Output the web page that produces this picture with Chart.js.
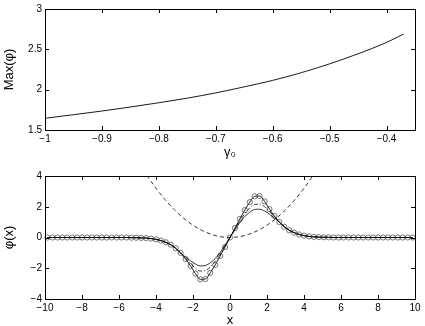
<!DOCTYPE html>
<html>
<head>
<meta charset="utf-8">
<script src="https://cdn.jsdelivr.net/npm/chart.js@4"></script>
<style>
  html, body { margin: 0; padding: 0; background: #fff; width: 425px; height: 326px; overflow: hidden; }
  .panel { position: absolute; left: 0; width: 425px; height: 163px; }
  #top { top: 0; }
  #bot { top: 163px; }
</style>
</head>
<body>
<div class="panel" id="top"><canvas id="c1"></canvas></div>
<div class="panel" id="bot"><canvas id="c2"></canvas></div>
<script>
// upper panel: Max(phi) against gamma_0
const gamma = [-1, -0.95, -0.9, -0.85, -0.8, -0.75, -0.7, -0.65, -0.6, -0.55, -0.5, -0.45, -0.4, -0.37]
const maxPhi = [1.645, 1.69, 1.735, 1.785, 1.838, 1.895, 1.96, 2.035, 2.115, 2.21, 2.32, 2.445, 2.585, 2.69]
const gammaTicks = [-1, -0.9, -0.8, -0.7, -0.6, -0.5, -0.4]
const maxPhiTicks = [1.5, 2, 2.5, 3]

// lower panel: phi(x) profiles
const xs = [-9.87, -9.6, -9.33, -9.07, -8.8, -8.53, -8.27, -8, -7.73, -7.47, -7.2, -6.93, -6.67, -6.4, -6.13, -5.87, -5.6, -5.33, -5.07, -4.8,
  -4.53, -4.27, -4, -3.73, -3.47, -3.2, -2.93, -2.67, -2.4, -2.13, -1.87, -1.6, -1.33, -1.07, -0.8, -0.53, -0.27, 0,
  0.27, 0.53, 0.8, 1.07, 1.33, 1.6, 1.87, 2.13, 2.4, 2.67, 2.93, 3.2, 3.47, 3.73, 4, 4.27, 4.53, 4.8, 5.07, 5.33, 5.6, 5.87,
  6.13, 6.4, 6.67, 6.93, 7.2, 7.47, 7.73, 8, 8.27, 8.53, 8.8, 9.07, 9.33, 9.6, 9.87]
const phiCircles = [0, 0, 0, 0, 0, 0, 0, 0, 0, 0, 0, 0, 0, 0, 0, 0, 0,
  -0.01, -0.015, -0.025, -0.04, -0.07, -0.12, -0.2, -0.31, -0.47, -0.7, -1.0, -1.4, -1.85, -2.35, -2.72, -2.7, -2.3, -1.78, -1.2, -0.62,
  0,
  0.62, 1.2, 1.78, 2.3, 2.68, 2.7, 2.35, 1.85, 1.4, 1.0, 0.7, 0.47, 0.31, 0.2, 0.12, 0.07, 0.04, 0.025, 0.015, 0.01,
  0, 0, 0, 0, 0, 0, 0, 0, 0, 0, 0, 0, 0, 0, 0, 0, 0]
const phiDashDot = [0, 0, 0, 0, 0, 0, 0, 0, 0, 0, 0, 0, 0, 0, 0, 0, 0,
  -0.01, -0.015, -0.025, -0.04, -0.07, -0.12, -0.2, -0.31, -0.47, -0.7, -1.0, -1.35, -1.7, -2.0, -2.18, -2.15, -1.92, -1.55, -1.08, -0.56,
  0,
  0.56, 1.08, 1.55, 1.92, 2.15, 2.17, 2.0, 1.7, 1.35, 1.0, 0.7, 0.47, 0.31, 0.2, 0.12, 0.07, 0.04, 0.025, 0.015, 0.01,
  0, 0, 0, 0, 0, 0, 0, 0, 0, 0, 0, 0, 0, 0, 0, 0, 0]
const phiSolid = [0, 0, 0, 0, 0, 0, 0, 0, 0, 0, 0, 0, 0, 0, 0, 0, 0,
  -0.01, -0.015, -0.025, -0.04, -0.07, -0.12, -0.2, -0.32, -0.48, -0.72, -1.0, -1.28, -1.52, -1.72, -1.85, -1.82, -1.65, -1.37, -0.97, -0.5,
  0,
  0.5, 0.97, 1.37, 1.65, 1.82, 1.84, 1.72, 1.52, 1.28, 1.0, 0.72, 0.48, 0.32, 0.2, 0.12, 0.07, 0.04, 0.025, 0.015, 0.01,
  0, 0, 0, 0, 0, 0, 0, 0, 0, 0, 0, 0, 0, 0, 0, 0, 0]
const wellX = [-4.5, -4, -3.5, -3, -2.5, -2, -1.5, -1, -0.5, 0, 0.5, 1, 1.5, 2, 2.5, 3, 3.5, 4, 4.5]
const wellY = [4.05, 3.2, 2.45, 1.8, 1.25, 0.8, 0.45, 0.2, 0.05, 0, 0.05, 0.2, 0.45, 0.8, 1.25, 1.8, 2.45, 3.2, 4.05]
const xTicks = [-10, -8, -6, -4, -2, 0, 2, 4, 6, 8, 10]
const phiTicks = [-4, -2, 0, 2, 4]

const family = "'Liberation Sans', Arial, Helvetica, sans-serif"
const fmt = (v) => (v < 0 ? "\u2212" : "") + Math.abs(v)
const pts = (xv, yv) => xv.map((x, i) => ({ x, y: yv[i] }))

// MATLAB-like box with ticks pointing inwards on all four sides
const boxPlugin = {
  id: "box",
  afterDatasetsDraw(chart) {
    const { ctx, chartArea: a, scales } = chart
    ctx.save()
    ctx.strokeStyle = "#000"
    ctx.lineWidth = 1
    ctx.strokeRect(a.left + 0.5, a.top + 0.5, a.right - a.left, a.bottom - a.top)
    const len = 4
    ctx.beginPath()
    scales.x.ticks.forEach((t) => {
      const p = Math.round(scales.x.getPixelForValue(t.value)) + 0.5
      if (p < a.left + 2 || p > a.right - 1) return
      ctx.moveTo(p, a.bottom); ctx.lineTo(p, a.bottom - len)
      ctx.moveTo(p, a.top); ctx.lineTo(p, a.top + len)
    })
    scales.y.ticks.forEach((t) => {
      const p = Math.round(scales.y.getPixelForValue(t.value)) + 0.5
      if (p < a.top + 2 || p > a.bottom - 1) return
      ctx.moveTo(a.left, p); ctx.lineTo(a.left + len, p)
      ctx.moveTo(a.right, p); ctx.lineTo(a.right - len, p)
    })
    ctx.stroke()
    ctx.restore()
  }
}

function axis(min, max, ticks, size, title, titlePad, horizontal) {
  return {
    type: "linear",
    min, max,
    afterBuildTicks: (s) => { s.ticks = ticks.map((v) => ({ value: v })) },
    afterFit: (s) => { if (horizontal) s.height = size; else s.width = size },
    grid: { display: false, drawTicks: false },
    border: { display: false },
    ticks: {
      padding: 3,
      autoSkip: false,
      maxRotation: 0,
      color: "#000",
      font: { family, size: 10 },
      callback: (v) => fmt(v)
    },
    title: {
      display: true,
      text: title,
      color: "#000",
      font: { family, size: 13 },
      padding: titlePad
    }
  }
}

const common = {
  responsive: true,
  maintainAspectRatio: false,
  animation: false,
  plugins: { legend: { display: false }, tooltip: { enabled: false } }
}

new Chart(document.getElementById("c1"), {
  type: "line",
  data: {
    datasets: [{
      data: pts(gamma, maxPhi),
      borderColor: "#000",
      borderWidth: 0.9,
      pointRadius: 0,
      cubicInterpolationMode: "monotone"
    }]
  },
  options: {
    ...common,
    layout: { padding: { top: 8, right: 10, bottom: 0, left: 0 } },
    scales: {
      x: axis(-1, -0.35, gammaTicks, 33, "\u03b3\u2080", { top: 0, bottom: 3 }, true),
      y: axis(1.5, 3, maxPhiTicks, 45, "Max(\u03c6)", { top: 2, bottom: 0 }, false)
    }
  },
  plugins: [boxPlugin]
})

new Chart(document.getElementById("c2"), {
  type: "line",
  data: {
    datasets: [
      {
        data: pts(wellX, wellY),
        borderColor: "#000",
        borderWidth: 0.8,
        borderDash: [4, 3],
        pointRadius: 0,
        cubicInterpolationMode: "monotone"
      },
      {
        data: pts(xs, phiSolid),
        borderColor: "#000",
        borderWidth: 0.8,
        pointRadius: 0,
        cubicInterpolationMode: "monotone"
      },
      {
        data: pts(xs, phiDashDot),
        borderColor: "#000",
        borderWidth: 0.8,
        borderDash: [4, 2, 1, 2],
        pointRadius: 0,
        cubicInterpolationMode: "monotone"
      },
      {
        data: pts(xs, phiCircles),
        borderColor: "#000",
        borderWidth: 0.9,
        pointRadius: 2.6,
        pointBorderWidth: 0.8,
        pointBorderColor: "#555",
        pointBackgroundColor: "rgba(0,0,0,0)",
        cubicInterpolationMode: "monotone",
        clip: false
      }
    ]
  },
  options: {
    ...common,
    layout: { padding: { top: 13, right: 10, bottom: 0, left: 0 } },
    scales: {
      x: axis(-10, 10, xTicks, 27, "x", { top: 0, bottom: -2 }, true),
      y: axis(-4, 4, phiTicks, 45, "\u03c6(x)", { top: 2, bottom: 0 }, false)
    }
  },
  plugins: [boxPlugin]
})
</script>
</body>
</html>
